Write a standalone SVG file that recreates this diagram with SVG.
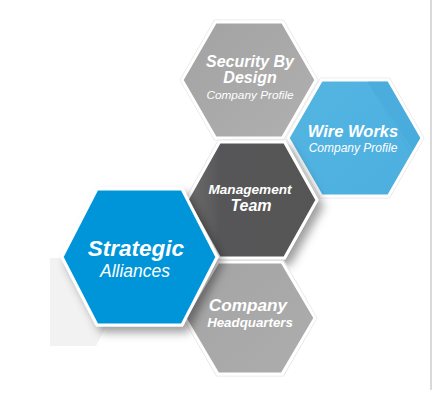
<svg xmlns="http://www.w3.org/2000/svg" width="432" height="397" viewBox="0 0 432 397">
<defs>
<style>
.hex{stroke:#ffffff;stroke-width:3;stroke-linejoin:miter}
.rim{fill:none;stroke:#e6e6e6;stroke-width:1}
.t{font-family:"Liberation Sans",Arial,sans-serif;fill:#ffffff;font-style:italic;text-anchor:middle}
.b{font-weight:bold}
</style>
<linearGradient id="gSec" x1="0" y1="0" x2="1" y2="1"><stop offset="0" stop-color="#a2a2a2"/><stop offset="1" stop-color="#b0b0b0"/></linearGradient>
<linearGradient id="gWire" x1="0" y1="0" x2="1" y2="1"><stop offset="0" stop-color="#54b5e2"/><stop offset="1" stop-color="#4cafdf"/></linearGradient>
<linearGradient id="gMan" x1="0" y1="0" x2="1" y2="0"><stop offset="0" stop-color="#6e6e6e"/><stop offset="0.25" stop-color="#575758"/><stop offset="1" stop-color="#555556"/></linearGradient>
<linearGradient id="gHQ" x1="0" y1="0" x2="1" y2="1"><stop offset="0" stop-color="#a4a4a4"/><stop offset="1" stop-color="#adadad"/></linearGradient>
<filter id="sh" x="-20%" y="-20%" width="150%" height="150%"><feDropShadow dx="5" dy="6" stdDeviation="5" flood-color="#000" flood-opacity="0.38"/></filter>
</defs>
<rect width="432" height="397" fill="#ffffff"/>
<line x1="431" y1="0" x2="431" y2="390" stroke="#b4b4b4" stroke-width="1"/>
<polygon points="50,258 120,258 120,300 96,346 50,346" fill="#f2f2f2"/>

<g id="security">
<polygon class="rim" points="180,80 214.5,20 283.5,20 318,80 283.5,140 214.5,140"/>
<polygon class="hex" fill="url(#gSec)" points="182,80 215.5,22 282.5,22 316,80 282.5,138 215.5,138"/>
<text class="t b" x="250" y="67" font-size="16">Security By</text>
<text class="t b" x="250" y="83" font-size="16">Design</text>
<text class="t" x="250" y="99" font-size="11.8">Company Profile</text>
</g>

<g id="wireworks">
<polygon class="rim" points="286,138 320.5,78 389.5,78 424,138 389.5,198 320.5,198"/>
<polygon class="hex" fill="url(#gWire)" points="288,138 321.5,80 388.5,80 422,138 388.5,196 321.5,196"/>
<polygon points="368,81.5 387.6,81.5 420.2,138 413,150.5" fill="#3fa3d6" opacity="0.35"/>
<line x1="368" y1="82" x2="411" y2="153" stroke="#3a9ed2" stroke-width="1" stroke-dasharray="1.5,1.5" opacity="0.6"/>
<text class="t b" x="353" y="137" font-size="16.5">Wire Works</text>
<text class="t" x="353" y="152" font-size="12">Company Profile</text>
</g>

<g id="management">
<polygon class="rim" points="185,200 218.5,140 285.5,140 319,200 285.5,260 218.5,260"/>
<polygon class="hex" fill="url(#gMan)" filter="url(#sh)" points="187,200 219.5,142 284.5,142 317,200 284.5,258 219.5,258"/>
<text class="t b" x="250" y="194" font-size="13.6">Management</text>
<text class="t b" x="251" y="211" font-size="16">Team</text>
</g>

<g id="headquarters">
<polygon class="rim" points="183,318 216.5,260 283.5,260 317,318 283.5,376 216.5,376"/>
<polygon class="hex" fill="url(#gHQ)" points="185,318 218,262 282,262 315,318 282,374 218,374"/>
<text class="t b" x="248" y="311" font-size="17.2">Company</text>
<text class="t b" x="250" y="327" font-size="13.3">Headquarters</text>
</g>

<g id="strategic">
<polygon class="hex" fill="#0095d9" filter="url(#sh)" stroke-width="3.5" points="62,257 97,189 182,189 217,257 182,325 97,325"/>
<text class="t b" x="136" y="256" font-size="22.5">Strategic</text>
<text class="t" x="135" y="277" font-size="17.5">Alliances</text>
</g>

<g id="connectors"></g>
</svg>
